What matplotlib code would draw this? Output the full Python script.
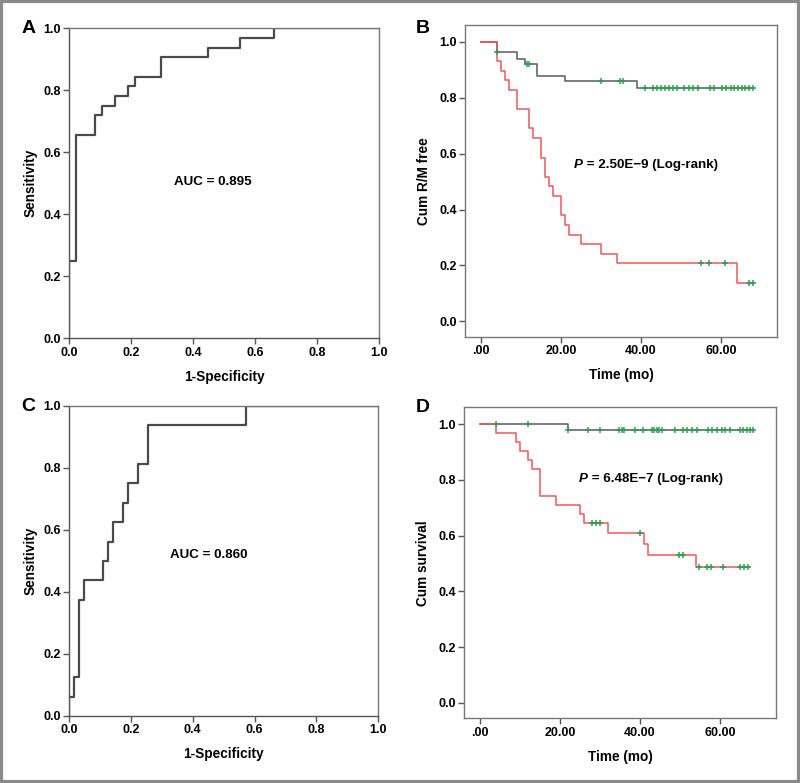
import numpy as np
import matplotlib
matplotlib.use('Agg')
import matplotlib.pyplot as plt
from matplotlib.patches import Rectangle

plt.rcParams['font.family'] = ['Liberation Sans', 'DejaVu Sans']
plt.rcParams['font.weight'] = 'bold'

# ROC A
fpr_a = [0.0, 0.0213, 0.085, 0.106, 0.149, 0.191, 0.213, 0.298, 0.447, 0.553, 0.660, 1.0]
tpr_a = [0.25, 0.656, 0.719, 0.750, 0.781, 0.8125, 0.844, 0.906, 0.9375, 0.969, 1.0, 1.0]
auc_a = 'AUC = 0.895'

# ROC C
fpr_c = [0.0, 0.0159, 0.032, 0.048, 0.111, 0.127, 0.143, 0.175, 0.190, 0.222, 0.254, 0.571, 1.0]
tpr_c = [0.0625, 0.125, 0.375, 0.4375, 0.5, 0.5625, 0.625, 0.6875, 0.75, 0.8125, 0.9375, 1.0, 1.0]
auc_c = 'AUC = 0.860'

# KM B (R/M free)
b_gray_t = [0, 4, 9, 11, 14, 21, 39, 68]
b_gray_s = [1.0, 0.962, 0.940, 0.920, 0.877, 0.858, 0.834, 0.834]
b_gray_cens = [4, 11.5, 12, 30, 34.8, 35.6, 41.1, 43, 44, 45, 46, 47, 48, 49, 50.8, 52, 53,
               54.3, 57.3, 58.2, 60.3, 61.3, 62.4, 63.2, 64.2, 65.3, 66.1, 66.9, 68]
b_red_t = [0, 4, 5, 6, 7, 9, 12, 13, 15, 16, 17, 18, 20, 21, 22, 25, 30, 34, 64, 68]
b_red_s = [1.0, 0.931, 0.897, 0.862, 0.828, 0.759, 0.690, 0.655, 0.586, 0.517, 0.483, 0.448,
           0.379, 0.345, 0.310, 0.276, 0.241, 0.207, 0.138, 0.138]
b_red_cens = [55, 57, 61, 67, 68]
p_b = '2.50E\u22129'

# KM D (survival)
d_gray_t = [0, 22, 68.3]
d_gray_s = [1.0, 0.978, 0.978]
d_gray_cens = [4, 12, 22, 27, 30, 34.8, 35.4, 36, 38.8, 40.8, 42.9, 43.6, 44.2, 44.8, 45.4,
               48.8, 50.8, 51.7, 52.9, 54.2, 57.1, 57.9, 59.2, 60.4, 61.3, 62.5, 65, 65.8,
               66.7, 67.5, 68.2]
d_red_t = [0, 4, 9, 10, 12, 13, 15, 19, 25, 26, 32, 41, 42, 54, 67.2]
d_red_s = [1.0, 0.968, 0.936, 0.903, 0.871, 0.839, 0.742, 0.710, 0.677, 0.645, 0.609, 0.570,
           0.532, 0.487, 0.487]
d_red_cens = [28, 29, 30, 40, 49.8, 50.8, 54.8, 56.8, 57.7, 60.8, 65, 66, 67.1]
p_d = '6.48E\u22127'

km_xticks = [0, 20, 40, 60]
km_xlabels = ['.00', '20.00', '40.00', '60.00']
yticks = [0.0, 0.2, 0.4, 0.6, 0.8, 1.0]

RED = '#f0575a'
GRAY = '#5a5a5a'
GREEN = '#2f9e4f'

fig = plt.figure(figsize=(8, 7.83), dpi=100)
fig.patches.append(Rectangle((0.0015, 0.0015), 0.997, 0.997, transform=fig.transFigure,
                             fill=False, edgecolor='#8a8a8a', linewidth=3))


def style(ax):
    for s in ax.spines.values():
        s.set_color('#777777')
        s.set_linewidth(1.0)
    ax.tick_params(direction='out', length=4, width=1, color='#555555', labelsize=9,
                   pad=2)
    for lab in ax.get_xticklabels() + ax.get_yticklabels():
        lab.set_fontweight('bold')


def roc(rect, fpr, tpr, auc, tx, ty, letter, ly):
    ax = fig.add_axes(rect)
    ax.step([0] + fpr, [0] + tpr, where='post', color='#4a4a4a', lw=1.6)
    ax.set_xlim(0, 1)
    ax.set_ylim(0, 1)
    ax.set_xticks(yticks)
    ax.set_yticks(yticks)
    ax.set_xticklabels(['%.1f' % v for v in yticks])
    ax.set_yticklabels(['%.1f' % v for v in yticks])
    style(ax)
    ax.spines['left'].set_color('#555555')
    ax.spines['bottom'].set_color('#555555')
    ax.set_xlabel('1-Specificity', fontsize=9.8, fontweight='bold', labelpad=8)
    ax.set_ylabel('Sensitivity', fontsize=9.8, fontweight='bold', labelpad=4)
    ax.text(tx, ty, auc, fontsize=9.6, fontweight='bold', ha='center', va='center')
    ax.text(-0.132, ly, letter, transform=ax.transAxes, fontsize=14, fontweight='bold',
            ha='center', va='center')
    return ax


def level(times, surv, t):
    i = np.searchsorted(times, t, side='right') - 1
    return np.array(surv)[i]


def km(rect, curves, ylabel, ptxt, tx, ty, letter, lx, ly):
    ax = fig.add_axes(rect)
    for t, s, cens, col in curves:
        ax.step(t, s, where='post', color=col, lw=1.1)
    for t, s, cens, col in curves:
        ax.plot(cens, level(t, s, cens), '+', color=GREEN, ms=5, mew=1.1, ls='none')
    ax.set_xlim(-4, 74)
    ax.set_ylim(-0.056, 1.06)
    ax.set_xticks(km_xticks)
    ax.set_xticklabels(km_xlabels)
    ax.set_yticks(yticks)
    ax.set_yticklabels(['%.1f' % v for v in yticks])
    style(ax)
    ax.set_xlabel('Time (mo)', fontsize=9.8, fontweight='bold', labelpad=8)
    ax.set_ylabel(ylabel, fontsize=9.8, fontweight='bold', labelpad=6)
    ax.text(tx, ty, 'P', fontsize=9.6, fontweight='bold', style='italic', ha='right',
            va='center')
    ax.text(tx, ty, ' = %s (Log-rank)' % ptxt, fontsize=9.6, fontweight='bold', ha='left',
            va='center')
    ax.text(lx, ly, letter, transform=ax.transAxes, fontsize=14, fontweight='bold',
            ha='center', va='center')
    return ax


roc([0.08625, 0.568, 0.3875, 0.396], fpr_a, tpr_a, auc_a, 0.465, 0.504, 'A', 1.0)
roc([0.08625, 0.0856, 0.3866, 0.396], fpr_c, tpr_c, auc_c, 0.453, 0.519, 'C', 0.997)
km([0.58125, 0.5696, 0.39, 0.3985],
   [(b_gray_t, b_gray_s, b_gray_cens, GRAY), (b_red_t, b_red_s, b_red_cens, RED)],
   'Cum R/M free', p_b, 25.5, 0.559, 'B', -0.135, 0.99)
km([0.58, 0.0826, 0.39, 0.397],
   [(d_gray_t, d_gray_s, d_gray_cens, GRAY), (d_red_t, d_red_s, d_red_cens, RED)],
   'Cum survival', p_d, 27.0, 0.804, 'D', -0.131, 1.0)

fig.savefig('out.png', dpi=100)
